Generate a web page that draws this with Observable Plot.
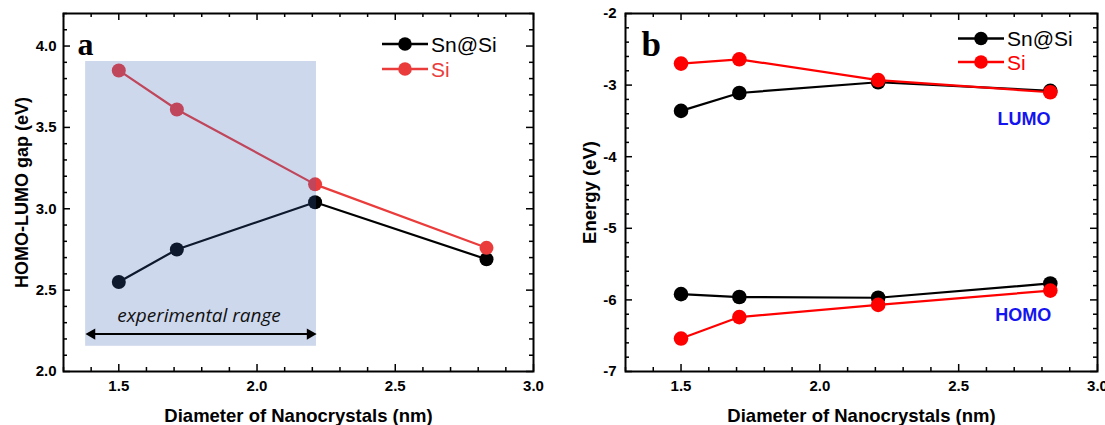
<!DOCTYPE html>
<html><head><meta charset="utf-8">
<script src="https://cdn.jsdelivr.net/npm/d3@7"></script>
<script src="https://cdn.jsdelivr.net/npm/@observablehq/plot@0.6"></script>
<style>
body{margin:0;background:#fff;}
#wrap{display:flex;width:1105px;height:425px;overflow:hidden;}
</style></head><body><div id="wrap"></div>
<script>
// ---------- data ----------
const diameters = [1.50, 1.71, 2.21, 2.83];
const seriesNames = ["Sn@Si", "Si"];
const gapSnSi = [2.55, 2.75, 3.04, 2.69];
const gapSi   = [3.85, 3.61, 3.15, 2.76];
const lumoSnSi = [-3.36, -3.11, -2.96, -3.08];
const lumoSi   = [-2.70, -2.64, -2.93, -3.10];
const homoSnSi = [-5.92, -5.96, -5.97, -5.77];
const homoSi   = [-6.54, -6.24, -6.07, -5.87];
const xTickValues = [1.5, 2.0, 2.5, 3.0];
const yTickValuesA = [2.0, 2.5, 3.0, 3.5, 4.0];
const yTickValuesB = [-7, -6, -5, -4, -3, -2];
const expRangeX = [1.38, 2.215];
const expRangeY = [2.155, 3.905];
const expArrow = {x1: 1.385, x2: 2.21, y: 2.23};
const expLabel = {x: 1.79, y: 2.34, text: "experimental range"};
const orbitalLabels = [{x: 2.735, y: -3.475, text: "LUMO"}, {x: 2.733, y: -6.22, text: "HOMO"}];

const colorA = {"Sn@Si": "#000000", "Si": "#eb3c3c"};
const colorB = {"Sn@Si": "#000000", "Si": "#ff0000"};

const rowsA = [];
seriesNames.forEach(s => diameters.forEach((d, i) => rowsA.push({series: s, d, v: (s === "Si" ? gapSi : gapSnSi)[i]})));
const rowsB = [];
seriesNames.forEach(s => {
  diameters.forEach((d, i) => rowsB.push({series: s, orb: "LUMO", d, v: (s === "Si" ? lumoSi : lumoSnSi)[i]}));
  diameters.forEach((d, i) => rowsB.push({series: s, orb: "HOMO", d, v: (s === "Si" ? homoSi : homoSnSi)[i]}));
});

const xMinor = d3.range(13, 31).map(d => d / 10).filter(v => !xTickValues.some(t => Math.abs(t - v) < 1e-9));
const yMinorA = d3.range(20, 43).map(d => d / 10).filter(v => !yTickValuesA.some(t => Math.abs(t - v) < 1e-9));
const yMinorB = d3.range(-70, -19, 2).map(d => d / 10).filter(v => !yTickValuesB.some(t => Math.abs(t - v) < 1e-9));

const FONT = "'Liberation Sans', Arial, sans-serif";

function tickRules(xMaj, xMin, yMaj, yMin, innerW, innerH) {
  const M = 7, m = 4, sw = 1.5;
  return [
    Plot.ruleX(xMaj, {x: d => d, insetTop: innerH - M, strokeWidth: sw}),
    Plot.ruleX(xMaj, {x: d => d, insetBottom: innerH - M, strokeWidth: sw}),
    Plot.ruleX(xMin, {x: d => d, insetTop: innerH - m, strokeWidth: sw}),
    Plot.ruleX(xMin, {x: d => d, insetBottom: innerH - m, strokeWidth: sw}),
    Plot.ruleY(yMaj, {y: d => d, insetRight: innerW - M, strokeWidth: sw}),
    Plot.ruleY(yMaj, {y: d => d, insetLeft: innerW - M, strokeWidth: sw}),
    Plot.ruleY(yMin, {y: d => d, insetRight: innerW - m, strokeWidth: sw}),
    Plot.ruleY(yMin, {y: d => d, insetLeft: innerW - m, strokeWidth: sw})
  ];
}

function addLegend(svg, colors, x0, y0, step) {
  const g = d3.select(svg).append("g");
  seriesNames.forEach((name, i) => {
    const y = y0 + i * step;
    g.append("line").attr("x1", x0).attr("x2", x0 + 46).attr("y1", y).attr("y2", y)
      .attr("stroke", colors[name]).attr("stroke-width", 2.5);
    g.append("circle").attr("cx", x0 + 23).attr("cy", y).attr("r", 6.8).attr("fill", colors[name]);
    g.append("text").attr("x", x0 + 49).attr("y", y).attr("dy", "0.36em")
      .attr("text-anchor", "start")
      .attr("font-family", FONT).attr("font-size", 21).attr("font-weight", "normal")
      .attr("fill", colors[name]).text(name);
  });
}

// ---------- panel a ----------
{
  const W = 565, H = 425, mL = 63, mR = 32, mT = 13, mB = 54;
  const iW = W - mL - mR, iH = H - mT - mB;
  const svg = Plot.plot({
    width: W, height: H, marginLeft: mL, marginRight: mR, marginTop: mT, marginBottom: mB,
    style: {fontFamily: FONT, background: "#fff", overflow: "visible"},
    x: {domain: [1.3, 3.0], label: null},
    y: {domain: [2.0, 4.2], label: null},
    marks: [
      Plot.line(rowsA, {x: "d", y: "v", z: "series", stroke: d => colorA[d.series], strokeWidth: 2.2}),
      Plot.dot(rowsA, {x: "d", y: "v", fill: d => colorA[d.series], r: 7}),
      Plot.rect([0], {x1: () => expRangeX[0], x2: () => expRangeX[1], y1: () => expRangeY[0], y2: () => expRangeY[1], fill: "rgb(61,101,182)", fillOpacity: 0.25}),
      Plot.link([expArrow], {x1: d => d.x1, x2: d => d.x2, y1: "y", y2: "y", stroke: "#000", strokeWidth: 2, insetLeft: 4}),
      Plot.dot([expArrow], {x: "x2", y: "y", symbol: "triangle", rotate: 90, r: 4.2, fill: "#000", dx: -5}),
      Plot.dot([expArrow], {x: "x1", y: "y", symbol: "triangle", rotate: -90, r: 4.2, fill: "#000", dx: 5}),
      Plot.text([expLabel], {x: "x", y: "y", text: "text", fontSize: 19, fontStyle: "italic", fontFamily: "'Open Sans', sans-serif", lineAnchor: "middle", fill: "#111"}),
      Plot.text(["a"], {frameAnchor: "top-left", text: d => d, dx: 14, dy: 41, textAnchor: "start", lineAnchor: "bottom", fontSize: 32, fontWeight: "bold", fontFamily: "'Liberation Serif', 'Times New Roman', serif"}),
      ...tickRules(xTickValues, xMinor, yTickValuesA, yMinorA, iW, iH),
      Plot.axisX(xTickValues, {tickSize: 0, tickPadding: 9, tickFormat: d3.format(".1f"), fontSize: 15, fontWeight: "bold", label: null}),
      Plot.axisY(yTickValuesA, {tickSize: 0, tickPadding: 7, tickFormat: d3.format(".1f"), fontSize: 15, fontWeight: "bold", label: null}),
      Plot.text(["HOMO-LUMO gap (eV)"], {frameAnchor: "left", text: d => d, rotate: -90, dx: -41, textAnchor: "middle", lineAnchor: "middle", fontSize: 18, fontWeight: "bold"}),
      Plot.text(["Diameter of Nanocrystals (nm)"], {frameAnchor: "bottom", text: d => d, dy: 50, textAnchor: "middle", lineAnchor: "bottom", fontSize: 18.5, fontWeight: "bold"}),
      Plot.frame({stroke: "#000", strokeWidth: 2})
    ]
  });
  addLegend(svg, colorA, 382, 44, 25);
  document.getElementById("wrap").appendChild(svg);
}

// ---------- panel b ----------
{
  const W = 540, H = 425, mL = 60, mR = 8, mT = 13, mB = 54;
  const iW = W - mL - mR, iH = H - mT - mB;
  const svg = Plot.plot({
    width: W, height: H, marginLeft: mL, marginRight: mR, marginTop: mT, marginBottom: mB,
    style: {fontFamily: FONT, background: "#fff", overflow: "visible"},
    x: {domain: [1.3, 3.0], label: null},
    y: {domain: [-7, -2], label: null},
    marks: [
      Plot.line(rowsB, {x: "d", y: "v", z: d => d.series + d.orb, stroke: d => colorB[d.series], strokeWidth: 2.2}),
      Plot.dot(rowsB, {x: "d", y: "v", fill: d => colorB[d.series], r: 7.3}),
      Plot.text(orbitalLabels, {x: "x", y: "y", text: "text", fontSize: 18, fontWeight: "bold", fill: "#1414f0", lineAnchor: "middle"}),
      Plot.text(["b"], {frameAnchor: "top-left", text: d => d, dx: 16, dy: 42, textAnchor: "start", lineAnchor: "bottom", fontSize: 35, fontWeight: "bold", fontFamily: "'Liberation Serif', 'Times New Roman', serif"}),
      ...tickRules(xTickValues, xMinor, yTickValuesB, yMinorB, iW, iH),
      Plot.axisX(xTickValues, {tickSize: 0, tickPadding: 9, tickFormat: d3.format(".1f"), fontSize: 15, fontWeight: "bold", label: null}),
      Plot.axisY(yTickValuesB, {tickSize: 0, tickPadding: 9, tickFormat: d => String(d), fontSize: 15, fontWeight: "bold", label: null}),
      Plot.text(["Energy (eV)"], {frameAnchor: "left", text: d => d, rotate: -90, dx: -35, textAnchor: "middle", lineAnchor: "middle", fontSize: 18.5, fontWeight: "bold"}),
      Plot.text(["Diameter of Nanocrystals (nm)"], {frameAnchor: "bottom", text: d => d, dy: 50, textAnchor: "middle", lineAnchor: "bottom", fontSize: 18.5, fontWeight: "bold"}),
      Plot.frame({stroke: "#000", strokeWidth: 2})
    ]
  });
  addLegend(svg, colorB, 393, 38.5, 23.5);
  document.getElementById("wrap").appendChild(svg);
}
</script></body></html>
